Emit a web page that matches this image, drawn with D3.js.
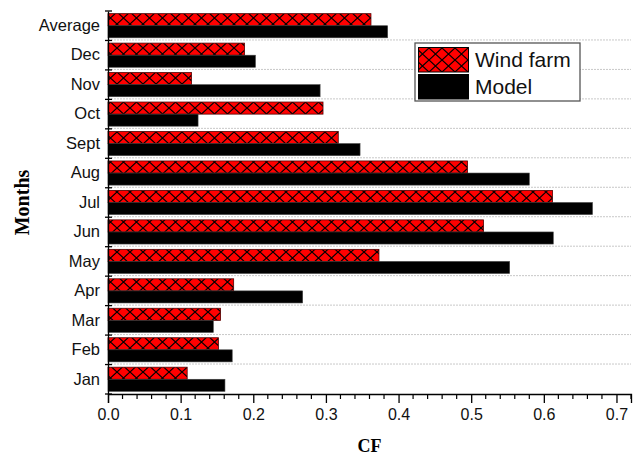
<!DOCTYPE html>
<html>
<head>
<meta charset="utf-8">
<script src="https://cdn.jsdelivr.net/npm/d3@7"></script>
<style>
  body { margin: 0; background: #fff; }
  svg { display: block; }
</style>
</head>
<body>
<svg id="container" width="638" height="459"></svg>
<script>
let width = 638,
    height = 459;

// data (capacity factor)
let months = ["Jan", "Feb", "Mar", "Apr", "May", "Jun", "Jul", "Aug", "Sept", "Oct", "Nov", "Dec", "Average"]
let windFarm = [0.109, 0.152, 0.155, 0.173, 0.373, 0.517, 0.612, 0.495, 0.317, 0.296, 0.115, 0.188, 0.362]
let model = [0.161, 0.171, 0.145, 0.268, 0.553, 0.613, 0.667, 0.580, 0.347, 0.124, 0.292, 0.203, 0.385]
let xTicks = [0, 0.1, 0.2, 0.3, 0.4, 0.5, 0.6, 0.7]

let data = months.map((m, i) => ({ month: m, wind: windFarm[i], model: model[i] }))

let svg = d3.select("#container")

let plotLeft = 108, plotRight = 631, plotTop = 11, plotBottom = 394

let xScale = d3.scaleLinear()
    .domain([0, 0.72])
    .range([plotLeft, plotRight])

let yScale = d3.scaleBand()
    .domain(months.slice().reverse())
    .range([plotTop, plotBottom])

let bw = yScale.bandwidth()

// hatch pattern for wind farm bars
let defs = svg.append("defs")
let pat = defs.append("pattern")
    .attr("id", "hatch")
    .attr("patternUnits", "userSpaceOnUse")
    .attr("width", 13)
    .attr("height", 12)
pat.append("rect")
    .attr("width", 13)
    .attr("height", 12)
    .attr("fill", "#ff0000")
pat.append("path")
    .attr("d", "M0,0 L13,12 M13,0 L0,12")
    .attr("stroke", "#000")
    .attr("stroke-width", 1.2)

// grid lines at band boundaries
svg.append("g")
    .selectAll("line")
    .data(months.slice(0, 12))
    .enter()
    .append("line")
    .attr("x1", plotLeft)
    .attr("x2", plotRight)
    .attr("y1", d => yScale(d) - 0.5)
    .attr("y2", d => yScale(d) - 0.5)
    .attr("stroke", "#c8c8c8")
    .attr("stroke-width", 1)
    .attr("stroke-dasharray", "2,1")

// bars
let groups = svg.append("g")
    .selectAll("g")
    .data(data)
    .enter()
    .append("g")

groups.append("rect")
    .attr("x", xScale(0))
    .attr("y", d => yScale(d.month) + bw * 0.09)
    .attr("width", d => xScale(d.wind) - xScale(0))
    .attr("height", bw * 0.41)
    .attr("fill", "url(#hatch)")
    .attr("stroke", "#500000")
    .attr("stroke-width", 0.8)

groups.append("rect")
    .attr("x", xScale(0))
    .attr("y", d => yScale(d.month) + bw * 0.5)
    .attr("width", d => xScale(d.model) - xScale(0))
    .attr("height", bw * 0.41)
    .attr("fill", "#000")
    .attr("stroke", "#444")
    .attr("stroke-width", 0.6)

// x axis
let xAxis = svg.append("g")
    .attr("transform", "translate(0," + plotBottom + ")")
    .call(d3.axisBottom(xScale)
        .tickValues(xTicks)
        .tickFormat(d3.format(".1f"))
        .tickSizeOuter(0)
        .tickSize(9)
        .tickPadding(6))
xAxis.select(".domain").attr("stroke-width", 1.3)
xAxis.selectAll(".tick line").attr("stroke-width", 1.3)
xAxis.selectAll("text")
    .attr("font-family", "Liberation Sans, Arial, sans-serif")
    .attr("font-size", "16px")
    .attr("fill", "#111")

// minor x ticks
svg.append("g")
    .selectAll("line")
    .data(d3.range(0, 37).map(i => i * 0.02).filter(v => Math.round(v * 100) % 10 != 0))
    .enter()
    .append("line")
    .attr("x1", d => xScale(d))
    .attr("x2", d => xScale(d))
    .attr("y1", plotBottom)
    .attr("y2", plotBottom + 5)
    .attr("stroke", "#000")
    .attr("stroke-width", 1.2)

// y axis
let yAxis = svg.append("g")
    .attr("transform", "translate(" + plotLeft + ",0)")
    .call(d3.axisLeft(yScale).tickSize(0).tickPadding(8))
yAxis.select(".domain").attr("stroke-width", 1.3)
yAxis.selectAll("text")
    .attr("font-family", "Liberation Sans, Arial, sans-serif")
    .attr("font-size", "16.5px")
    .attr("fill", "#111")

// y ticks at band boundaries
svg.append("g")
    .selectAll("line")
    .data(months.concat(["_"]))
    .enter()
    .append("line")
    .attr("x1", plotLeft - 3)
    .attr("x2", plotLeft + 4)
    .attr("y1", (d, i) => i < months.length ? yScale(d) : plotBottom)
    .attr("y2", (d, i) => i < months.length ? yScale(d) : plotBottom)
    .attr("stroke", "#000")
    .attr("stroke-width", 1.3)

// axis titles
svg.append("text")
    .attr("x", (plotLeft + plotRight) / 2)
    .attr("y", 452)
    .attr("text-anchor", "middle")
    .attr("font-family", "Liberation Serif, Times New Roman, serif")
    .attr("font-weight", "bold")
    .attr("font-size", "18px")
    .text("CF")

svg.append("text")
    .attr("transform", "translate(29," + ((plotTop + plotBottom) / 2) + ") rotate(-90)")
    .attr("text-anchor", "middle")
    .attr("font-family", "Liberation Serif, Times New Roman, serif")
    .attr("font-weight", "bold")
    .attr("font-size", "20px")
    .text("Months")

// legend
let legend = svg.append("g")
legend.append("rect")
    .attr("x", 415)
    .attr("y", 43)
    .attr("width", 165)
    .attr("height", 58)
    .attr("fill", "#fff")
    .attr("stroke", "#555")
    .attr("stroke-width", 1.3)

let legItems = [
    { name: "Wind farm", fill: "url(#hatch)" },
    { name: "Model", fill: "#000" }
]
legItems.forEach((d, i) => {
    legend.append("rect")
        .attr("x", 418.5)
        .attr("y", 47.5 + i * 27)
        .attr("width", 50)
        .attr("height", 24.5)
        .attr("fill", d.fill)
        .attr("stroke", "#000")
        .attr("stroke-width", 1)
    legend.append("text")
        .attr("x", 475)
        .attr("y", 67 + i * 27)
        .attr("font-family", "Liberation Sans, Arial, sans-serif")
        .attr("font-size", "21px")
        .attr("fill", "#111")
        .text(d.name)
})
</script>
</body>
</html>
